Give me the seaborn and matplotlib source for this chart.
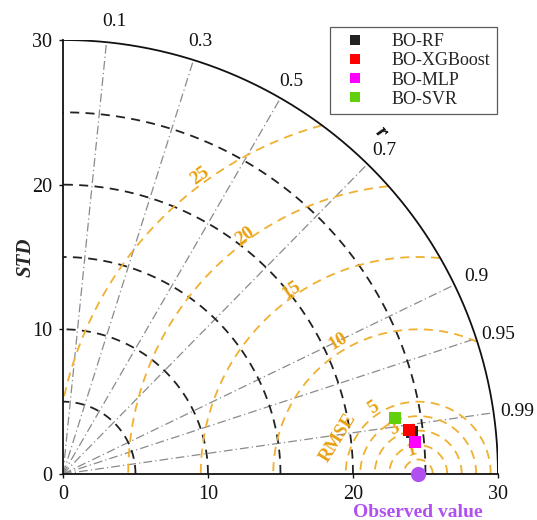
import numpy as np
import pandas as pd
import matplotlib
matplotlib.use("Agg")
import matplotlib.pyplot as plt
import seaborn as sns

# Model statistics (standard deviation and correlation with observations)
models = ["BO-RF", "BO-XGBoost", "BO-MLP", "BO-SVR"]
std_values = [24.23, 24.09, 24.35, 23.23]
corr_values = [0.9927, 0.9920, 0.9959, 0.9858]
model_colors = ["#222222", "#ff0000", "#ff00ff", "#5fd00a"]
observed_std = 24.5

# Grid definitions
std_max = 30
std_arcs = [5, 10, 15, 20, 25]
corr_lines = [0.1, 0.3, 0.5, 0.7, 0.9, 0.95, 0.99]
rmse_levels = [1, 2, 3, 4, 5, 10, 15, 20, 25]
rmse_labels = [1, 3, 5, 10, 15, 20, 25]
axis_ticks = [0, 10, 20, 30]

sns.set_theme(style="white")
plt.rcParams["font.family"] = ["Liberation Serif", "DejaVu Serif"]

fig = plt.figure(figsize=(5.37, 5.20), dpi=100)
ax = fig.add_axes([0.1173, 0.0885, 0.810, 0.8346])
ax.set_xlim(0, std_max)
ax.set_ylim(0, std_max)

theta = np.linspace(0, np.pi / 2, 400)

# Outer boundary arc
ax.plot(std_max * np.cos(theta), std_max * np.sin(theta), color="#111111", lw=1.3, zorder=3)

# Standard deviation arcs
for s in std_arcs:
    ax.plot(s * np.cos(theta), s * np.sin(theta), color="#222222", lw=1.3,
            ls=(0, (5, 3.5)), zorder=2)

# Correlation rays; labels offset (in points) from where each ray meets the rim
label_offset = {0.1: (6, 15), 0.3: (5, 13.5), 0.5: (7.5, 12), 0.7: (12, 9.5),
                0.9: (15.5, 5.7), 0.95: (15.5, 3.2), 0.99: (17, 1.2)}
for c in corr_lines:
    a = np.arccos(c)
    end = (std_max * np.cos(a), std_max * np.sin(a))
    ax.plot([0, end[0]], [0, end[1]], color="#8a8a8a",
            lw=0.9, ls=(0, (7, 2.5, 1, 2.5)), zorder=1)
    ax.annotate(f"{c:g}", xy=end, xytext=label_offset[c], textcoords="offset points",
                ha="center", va="center", fontsize=14, color="#111111",
                annotation_clip=False)

# RMSE arcs centred on the observed point
phi = np.linspace(0, np.pi, 800)
for r in rmse_levels:
    x = observed_std + r * np.cos(phi)
    y = r * np.sin(phi)
    outside = (np.hypot(x, y) > std_max) | (x < 0)
    x = np.where(outside, np.nan, x)
    y = np.where(outside, np.nan, y)
    ax.plot(x, y, color="#f0b030", lw=1.3, ls=(0, (5, 3.5)), zorder=2)

label_angle = {1: 106, 3: 118, 5: 124, 10: 121, 15: 124.4, 20: 125.9, 25: 126.2}
label_radius_pad = {1: 0.7, 3: 0.5, 5: 0.5, 10: 0.7, 15: 0.45, 20: 0.3, 25: 0.5}
for r in rmse_labels:
    a = np.deg2rad(label_angle[r])
    rr = r + label_radius_pad[r]
    ax.text(observed_std + rr * np.cos(a), rr * np.sin(a), str(r),
            rotation=label_angle[r] - 90, ha="center", va="center",
            fontsize=13.5, fontweight="bold", color="#e8a010", zorder=4)
ax.text(19.0, 2.5, "RMSE", rotation=58, ha="center", va="center",
        fontsize=13.5, fontweight="bold", color="#e8a010", zorder=4)

# Model points
df = pd.DataFrame({"model": models, "std": std_values, "corr": corr_values})
df["x"] = df["std"] * df["corr"]
df["y"] = df["std"] * np.sin(np.arccos(df["corr"]))
sns.scatterplot(data=df, x="x", y="y", hue="model", hue_order=models,
                palette=model_colors, marker="s", s=75, linewidth=0,
                ax=ax, zorder=5, clip_on=False)

# Observed reference point
ax.scatter([observed_std], [0], s=120, color="#b050f0", zorder=6, clip_on=False,
           linewidth=0)
ax.text(observed_std, -2.65, "Observed value", ha="center", va="center",
        fontsize=14, fontweight="bold", color="#b050f0", clip_on=False)

# Axis labels
ax.text(21.9, 23.6, "r", rotation=-45, ha="center", va="center", fontsize=15,
        fontweight="bold", fontstyle="italic", color="#111111")
ax.set_ylabel("STD", fontsize=15, fontweight="bold", fontstyle="italic", labelpad=-3)
ax.set_xlabel("")

ax.set_xticks(axis_ticks)
ax.set_yticks(axis_ticks)
ax.tick_params(axis="both", labelsize=14.5, length=3, width=1, direction="out",
               colors="#111111", pad=5)
ax.tick_params(axis="both", bottom=True, left=True)
for side in ["top", "right"]:
    ax.spines[side].set_visible(False)
for side in ["left", "bottom"]:
    ax.spines[side].set_color("#111111")
    ax.spines[side].set_linewidth(1.3)

# Legend
handles, labels = ax.get_legend_handles_labels()
leg = ax.legend(handles, labels, loc="upper right", bbox_to_anchor=(0.997, 1.03),
                fontsize=13, frameon=True, fancybox=False, edgecolor="#333333",
                borderpad=0.35, handletextpad=1.05, labelspacing=0.12,
                markerscale=0.85, handlelength=2.0, borderaxespad=0)
leg.get_frame().set_linewidth(0.9)

fig.savefig("out.png", dpi=100)
